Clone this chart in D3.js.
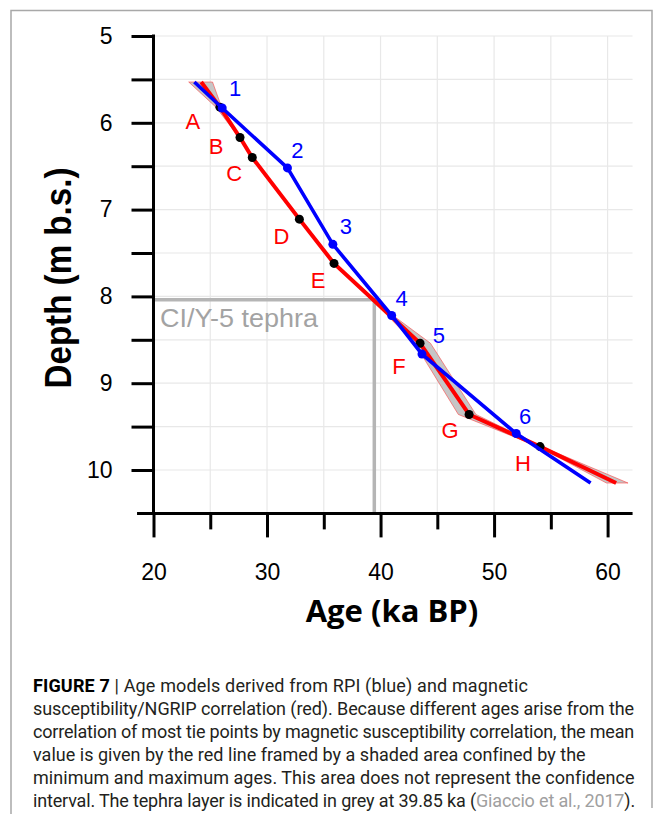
<!DOCTYPE html>
<html><head><meta charset="utf-8">
<script src="https://cdn.jsdelivr.net/npm/d3@7"></script>
<style>body{margin:0;background:#fff}svg{display:block}</style>
</head><body><svg id="c" width="663" height="814"></svg>
<script>
// ---- data ----
const xTicks = [20, 30, 40, 50, 60];
const xMinorTicks = [25, 35, 45, 55];
const yTicks = [5, 5.5, 6, 6.5, 7, 7.5, 8, 8.5, 9, 9.5, 10];
const yTickLabels = ["5", "", "6", "", "7", "", "8", "", "9", "", "10"];

// RPI age model (blue)
const blueLabels = ["", "1", "2", "3", "4", "5", "6", ""];
const blueAge    = [23.6, 26.05, 31.8, 35.8, 40.98, 43.65, 51.95, 58.5];
const blueDepth  = [5.53, 5.83, 6.52, 7.40, 8.22, 8.665, 9.58, 10.15];

// magnetic susceptibility / NGRIP model (red) with min/max ages
const redLabels = ["", "A", "B", "C", "D", "E", "", "F", "G", "H", ""];
const redDepth  = [5.53, 5.82, 6.17, 6.40, 7.11, 7.62, 8.22, 8.54, 9.36, 9.73, 10.15];
const redMean   = [24.2, 25.85, 27.62, 28.7, 32.85, 35.9, 40.85, 43.48, 47.8, 54.05, 60.75];
const redMin    = [23.1, 25.5, 27.55, 28.7, 32.85, 35.85, 40.6, 43.0, 46.85, 53.9, 59.9];
const redMax    = [25.2, 26.0, 27.65, 28.7, 32.85, 35.95, 41.1, 44.4, 48.4, 54.2, 61.8];

const tephraAge = 39.45;
const tephraDepth = 8.04;
const tephraLabel = "CI/Y-5 tephra";

const xTitle = "Age (ka BP)";
const yTitle = "Depth (m b.s.)";
const captionLines = [
  [["FIGURE 7", "b"], [" | Age models derived from RPI (blue) and magnetic", ""]],
  [["susceptibility/NGRIP correlation (red). Because different ages arise from the", ""]],
  [["correlation of most tie points by magnetic susceptibility correlation, the mean", ""]],
  [["value is given by the red line framed by a shaded area confined by the", ""]],
  [["minimum and maximum ages. This area does not represent the confidence", ""]],
  [["interval. The tephra layer is indicated in grey at 39.85 ka (", ""], ["Giaccio et al., 2017", "g"], [").", ""]]
];

// ---- layout ----
const captionWidths = [495, 601, 601, 552, 601, 602];
const blueLabelOffset = [[0,0],[13,-20],[10,-18],[13,-18],[10,-17],[17,-19],[9,-17],[0,0]];
const redLabelOffset = [[0,0],[-27,14],[-24,9],[-18,16],[-18,17],[-16,17],[0,0],[-21,23],[-19,16],[-17,17],[0,0]];

const svg = d3.select("#c");
svg.append("rect").attr("width", 663).attr("height", 814).attr("fill", "#fff");

const x = d3.scaleLinear().domain([20, 60]).range([153.5, 607.6]);
const y = d3.scaleLinear().domain([5, 10.5]).range([36, 513.4]);
const xRight = 62.2, xLeft = 18.55;

// frame
svg.append("path").attr("d", "M11,814 L11,10.5 L652,10.5 L652,808")
  .attr("fill", "none").attr("stroke", "#a8a8a8").attr("stroke-width", 1.5);

// grid
const grid = svg.append("g").attr("stroke", "#e8e8e8").attr("stroke-width", 1.2);
grid.selectAll("line.v").data(d3.range(25, 61, 5)).join("line")
  .attr("x1", d => x(d)).attr("x2", d => x(d)).attr("y1", y(5)).attr("y2", y(10.5));
grid.selectAll("line.h").data(yTicks).join("line")
  .attr("x1", x(20)).attr("x2", x(xRight)).attr("y1", d => y(d)).attr("y2", d => y(d));

// tephra
svg.append("path")
  .attr("d", `M${x(20)},${y(tephraDepth)} L${x(tephraAge)},${y(tephraDepth)} L${x(tephraAge)},${y(10.5)}`)
  .attr("fill", "none").attr("stroke", "#b5b5b5").attr("stroke-width", 3.5);
svg.append("text").attr("x", 160).attr("y", y(tephraDepth) + 27)
  .attr("font-family", "Liberation Sans, Arial, sans-serif").attr("font-size", 25)
  .attr("textLength", 158).attr("lengthAdjust", "spacingAndGlyphs")
  .attr("fill", "#a3a3a3").text(tephraLabel);

// red band
const redData = redDepth.map((d, i) => ({d, mean: redMean[i], min: redMin[i], max: redMax[i], label: redLabels[i], off: redLabelOffset[i]}));
const area = d3.area().y(p => y(p.d)).x0(p => x(p.min)).x1(p => x(p.max));
svg.append("path").attr("d", area(redData))
  .attr("fill", "#c6c6c6").attr("stroke", "#ff3a3a").attr("stroke-width", 0.7).attr("stroke-opacity", 0.8);

const line = d3.line();
svg.append("path").attr("d", line(redData.map(p => [x(p.mean), y(p.d)])))
  .attr("fill", "none").attr("stroke", "#ff0000").attr("stroke-width", 4);
svg.selectAll("circle.r").data(redData.filter(p => p.label)).join("circle")
  .attr("cx", p => x(p.mean)).attr("cy", p => y(p.d)).attr("r", 4.5).attr("fill", "#000");

const blueData = blueDepth.map((d, i) => ({d, age: blueAge[i], label: blueLabels[i], off: blueLabelOffset[i]}));
svg.append("path").attr("d", line(blueData.map(p => [x(p.age), y(p.d)])))
  .attr("fill", "none").attr("stroke", "#0000ff").attr("stroke-width", 3.6);
svg.selectAll("circle.b").data(blueData.filter(p => p.label)).join("circle")
  .attr("cx", p => x(p.age)).attr("cy", p => y(p.d)).attr("r", 4.5).attr("fill", "#0000ff");

// labels
const lblFont = "Liberation Sans, Arial, sans-serif";
svg.append("g").selectAll("text").data(redData.filter(p => p.label)).join("text")
  .attr("x", p => x(p.mean) + p.off[0]).attr("y", p => y(p.d) + p.off[1]).attr("dy", "0.35em")
  .attr("text-anchor", "middle").attr("font-family", lblFont).attr("font-size", 22)
  .attr("fill", "#ff0000").text(p => p.label);
svg.append("g").selectAll("text").data(blueData.filter(p => p.label)).join("text")
  .attr("x", p => x(p.age) + p.off[0]).attr("y", p => y(p.d) + p.off[1]).attr("dy", "0.35em")
  .attr("text-anchor", "middle").attr("font-family", lblFont).attr("font-size", 22)
  .attr("fill", "#0000ff").text(p => p.label);

// axes
const yAxis = d3.axisLeft(y).tickValues(yTicks).tickSize(22).tickPadding(19)
  .tickFormat((d, i) => yTickLabels[i]);
const gy = svg.append("g").attr("transform", `translate(${x(20)},0)`).call(yAxis);
const xMajor = d3.axisBottom(x).tickValues(xTicks).tickSize(24).tickPadding(26).tickFormat(d3.format("d"));
const xMinor = d3.axisBottom(x).tickValues(xMinorTicks).tickSize(16).tickFormat("");
const gx = svg.append("g").attr("transform", `translate(0,${y(10.5)})`).call(xMajor);
const gx2 = svg.append("g").attr("transform", `translate(0,${y(10.5)})`).call(xMinor);
[gy, gx, gx2].forEach(g => {
  g.select(".domain").remove();
  g.selectAll(".tick line").attr("stroke", "#000").attr("stroke-width", 3);
  g.selectAll(".tick text").attr("font-family", lblFont).attr("font-size", 23).attr("fill", "#000");
});
svg.append("line").attr("x1", x(20)).attr("x2", x(20)).attr("y1", y(5) - 1.5).attr("y2", y(10.5))
  .attr("stroke", "#000").attr("stroke-width", 3);
svg.append("line").attr("x1", x(xLeft)).attr("x2", x(xRight)).attr("y1", y(10.5)).attr("y2", y(10.5))
  .attr("stroke", "#000").attr("stroke-width", 3);

// titles
svg.append("text").attr("transform", `translate(71,278) rotate(-90)`)
  .attr("text-anchor", "middle").attr("font-family", "Liberation Sans, Arial, sans-serif")
  .attr("font-weight", "bold").attr("font-size", 37)
  .attr("textLength", 221).attr("lengthAdjust", "spacingAndGlyphs")
  .attr("fill", "#000").text(yTitle);
svg.append("text").attr("x", 392).attr("y", 622).attr("text-anchor", "middle")
  .attr("font-family", "Open Sans, sans-serif").attr("font-weight", 700).attr("font-size", 31)
  .attr("fill", "#000").text(xTitle);

// caption: fit each line to its width via letter-spacing
const cap = svg.append("g").attr("font-family", "Roboto, Liberation Sans, Arial, sans-serif").attr("font-size", 18);
captionLines.forEach((segs, i) => {
  const t = cap.append("text").attr("x", 33).attr("y", 692 + i * 23).attr("fill", "#231f20");
  segs.forEach(([s, st]) => {
    const ts = t.append("tspan").text(s);
    if (st === "b") ts.attr("font-weight", "bold").attr("fill", "#000");
    if (st === "g") ts.attr("fill", "#a0a0a0");
  });
  const natural = t.node().getComputedTextLength();
  const n = segs.reduce((a, s) => a + s[0].length, 0);
  t.attr("letter-spacing", ((captionWidths[i] - natural) / n).toFixed(3) + "px");
});
</script></body></html>
